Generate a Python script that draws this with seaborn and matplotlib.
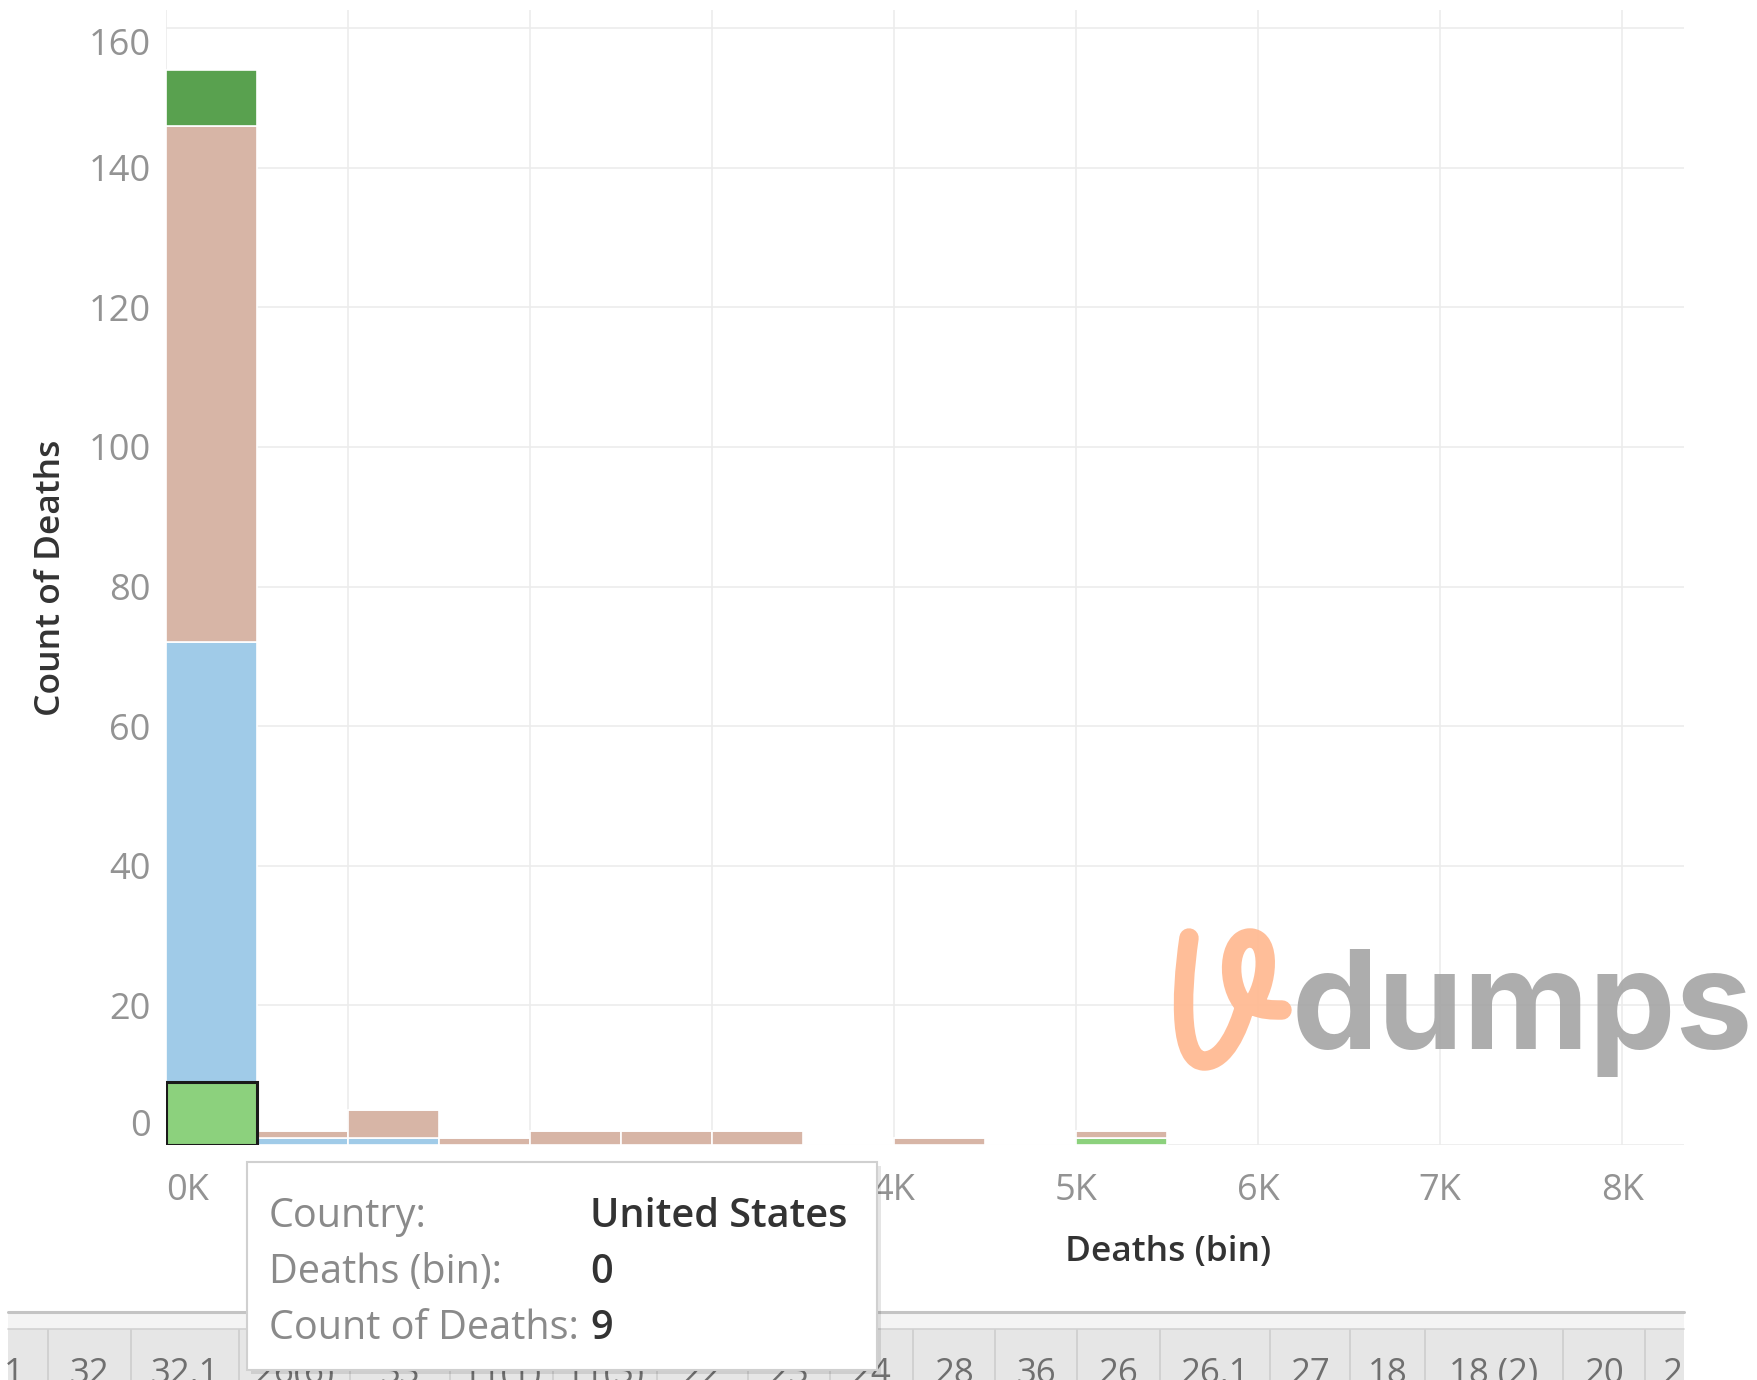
import numpy as np
import pandas as pd
import matplotlib
matplotlib.use("Agg")
import matplotlib.pyplot as plt
import seaborn as sns
from matplotlib.patches import Rectangle, PathPatch
from matplotlib.path import Path

# ---------------- data ----------------
bin_starts = [0, 500, 1000, 1500, 2000, 2500, 3000, 3500, 4000, 4500, 5000]
# stacking order top -> bottom
countries = ["Country D", "Country C", "Country B", "United States"]
count_country_d = [8, 0, 0, 0, 0, 0, 0, 0, 0, 0, 0]
count_country_c = [74, 1, 4, 1, 2, 2, 2, 0, 1, 0, 1]
count_country_b = [63, 1, 1, 0, 0, 0, 0, 0, 0, 0, 0]
count_us = [9, 0, 0, 0, 0, 0, 0, 0, 0, 0, 1]
colors = ["#59a14f", "#d7b5a6", "#a0cbe8", "#8cd17d"]

y_ticks = [0, 20, 40, 60, 80, 100, 120, 140, 160]
x_ticks = [0, 1000, 2000, 3000, 4000, 5000, 6000, 7000, 8000]
x_tick_labels = ["0K", "1K", "2K", "3K", "4K", "5K", "6K", "7K", "8K"]

tooltip_keys = ["Country:", "Deaths (bin):", "Count of Deaths:"]
tooltip_vals = ["United States", "0", "9"]

tab_labels = ["1", "32", "32.1", "26(6)", "33", "11(1)", "11(3)", "22", "23", "24",
              "28", "36", "26", "26.1", "27", "18", "18 (2)", "20", "2"]

BIN_W = 500

rows = []
for name, vals in zip(countries, [count_country_d, count_country_c, count_country_b, count_us]):
    for b, c in zip(bin_starts, vals):
        if c > 0:
            rows.append({"country": name, "deaths": b + BIN_W / 2, "count": c})
df = pd.DataFrame(rows)

# ---------------- figure ----------------
sns.set_theme(style="white")
plt.rcParams["font.family"] = ["Open Sans", "DejaVu Sans"]

W, H = 1757, 1380
fig = plt.figure(figsize=(W / 100, H / 100), dpi=100)
fig.patch.set_facecolor("white")

def fx(px):
    return px / W

def fy(py):
    return 1 - py / H

ax_left, ax_right, ax_top, ax_bot = 166, 1684, 10, 1145
ax = fig.add_axes([fx(ax_left), fy(ax_bot), fx(ax_right - ax_left), (ax_bot - ax_top) / H])

sns.histplot(data=df, x="deaths", weights="count", hue="country",
             hue_order=countries, palette=dict(zip(countries, colors)),
             multiple="stack", binwidth=BIN_W, binrange=(0, 5500),
             edgecolor="white", linewidth=1.2, alpha=1, legend=False, ax=ax)

# highlight the selected mark (United States, first bin)
us_rgb = matplotlib.colors.to_rgb(colors[3])
for p in ax.patches:
    if np.allclose(p.get_facecolor()[:3], us_rgb, atol=0.01) and p.get_x() < 1 and p.get_height() > 0:
        p.set_edgecolor("#1a1a1a")
        p.set_linewidth(2.2)
        p.set_zorder(5)

ax.set_xlim(0, 8340)
ax.set_ylim(0, 162.6)
ax.set_xticks(x_ticks)
ax.set_xticklabels(x_tick_labels)
ax.set_yticks(y_ticks)
ax.grid(True, color="#ececec", linewidth=1.2)
ax.set_axisbelow(True)
for s in ax.spines.values():
    s.set_visible(False)
ax.tick_params(axis="both", length=0, labelsize=26, labelcolor="#939393")
ax.tick_params(axis="x", pad=20)
ax.tick_params(axis="y", pad=11)
for t in ax.get_yticklabels():
    if t.get_text() == "160":
        t.set_va("top")
    elif t.get_text() == "0":
        t.set_va("bottom")
for t in ax.get_xticklabels():
    if t.get_text() == "0K":
        t.set_ha("left")
    if t.get_text() in ("1K", "2K", "3K"):
        t.set_visible(False)  # hidden behind the tooltip in the reference

ax.set_ylabel("Count of Deaths", fontsize=25.5, fontweight="semibold", color="#333333")
ax.set_xlabel("Deaths (bin)", fontsize=25.5, fontweight="semibold", color="#333333")
ax.yaxis.set_label_coords((51 - ax_left) / (ax_right - ax_left), 0.5)
ax.xaxis.set_label_coords((1168 - ax_left) / (ax_right - ax_left), -(1252 - ax_bot) / (ax_bot - ax_top))
ax.xaxis.label.set_va("center")
ax.yaxis.label.set_va("center")

# ---------------- watermark ----------------
fig.text(fx(1292), fy(1049), "dumps", fontsize=99, fontweight="bold",
         family=["Inter", "DejaVu Sans"], color="#a6a6a6", alpha=0.92,
         ha="left", va="baseline", zorder=20)
pts = [(1189, 938), (1180, 1000), (1180, 1062), (1205, 1061),
       (1225, 1060), (1238, 1030), (1245, 1006),
       (1225, 985), (1228, 938), (1250, 938),
       (1272, 938), (1268, 985), (1252, 1005),
       (1262, 1010), (1272, 1010), (1282, 1010)]
codes = [Path.MOVETO] + [Path.CURVE4] * 15
verts = [(fx(x), fy(y)) for x, y in pts]
fig.patches.append(PathPatch(Path(verts, codes), transform=fig.transFigure,
                             facecolor="none", edgecolor="#ffbb94", linewidth=14,
                             capstyle="round", joinstyle="round", alpha=0.95, zorder=20))

# ---------------- bottom tab strip ----------------
strip_l, strip_r = 8, 1684
fig.patches.append(Rectangle((fx(strip_l), fy(1329)), fx(strip_r - strip_l), (1329 - 1313) / H,
                             transform=fig.transFigure, facecolor="#f4f4f4", edgecolor="none", zorder=1))
fig.patches.append(Rectangle((fx(strip_l), fy(1380)), fx(strip_r - strip_l), (1380 - 1329) / H,
                             transform=fig.transFigure, facecolor="#e6e6e6", edgecolor="none", zorder=1))
fig.lines.append(plt.Line2D([fx(strip_l), fx(strip_r)], [fy(1312), fy(1312)],
                            transform=fig.transFigure, color="#c4c4c4", linewidth=2.2, zorder=2))
fig.lines.append(plt.Line2D([fx(strip_l), fx(strip_r)], [fy(1329), fy(1329)],
                            transform=fig.transFigure, color="#d2d2d2", linewidth=1.2, zorder=2))
separators = [48, 131, 239, 350, 450, 553, 657, 748, 830, 913, 995, 1077,
              1160, 1270, 1350, 1425, 1563, 1645]
for sx in separators:
    fig.lines.append(plt.Line2D([fx(sx), fx(sx)], [fy(1330), fy(1380)],
                                transform=fig.transFigure, color="#cdcdcd", linewidth=1.2, zorder=2))
tab_centers = [14] + [(separators[i] + separators[i + 1]) / 2 for i in range(len(separators) - 1)] + [1672]
for lbl, cx in zip(tab_labels, tab_centers):
    fig.text(fx(cx), fy(1357), lbl, fontsize=25, color="#6f6f6f", ha="center", va="top", zorder=3)

# ---------------- tooltip ----------------
tx0, tx1, ty0, ty1 = 247, 877, 1162, 1370
fig.patches.append(Rectangle((fx(tx0 + 4), fy(ty1 + 4)), fx(tx1 - tx0), (ty1 - ty0) / H,
                             transform=fig.transFigure, facecolor="#000000", alpha=0.10,
                             edgecolor="none", zorder=29))
fig.patches.append(Rectangle((fx(tx0), fy(ty1)), fx(tx1 - tx0), (ty1 - ty0) / H,
                             transform=fig.transFigure, facecolor="white", edgecolor="#d0d0d0",
                             linewidth=1.5, zorder=30))
for i, (k, v) in enumerate(zip(tooltip_keys, tooltip_vals)):
    yy = 1217 + 56 * i
    fig.text(fx(269), fy(yy), k, fontsize=28.5, color="#8a8a8a", ha="left", va="center", zorder=31)
    fig.text(fx(590), fy(yy), v, fontsize=28.5, color="#333333",
             fontweight="semibold", ha="left", va="center", zorder=31)

fig.savefig("out.png", dpi=100, facecolor="white")
